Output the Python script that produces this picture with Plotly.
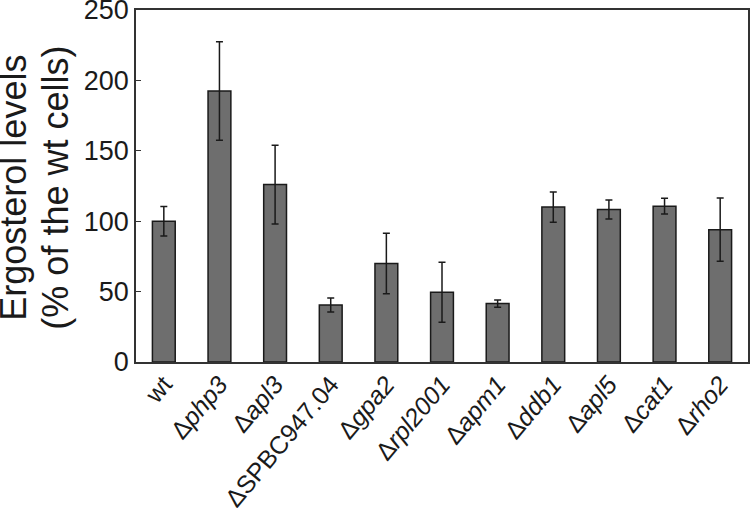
import plotly.graph_objects as go

categories = ["wt", "Δ<i>php3</i>", "Δ<i>apl3</i>", "ΔSPBC947.04", "Δ<i>gpa2</i>",
              "Δ<i>rpl2001</i>", "Δ<i>apm1</i>", "Δ<i>ddb1</i>", "Δ<i>apl5</i>",
              "Δ<i>cat1</i>", "Δ<i>rho2</i>"]
values = [100, 192.5, 126, 40.5, 70, 49.5, 41.5, 110, 108.3, 110.7, 94]
errors = [10.5, 35, 28, 5, 21.5, 21.3, 2.6, 10.7, 6.7, 5.6, 22.4]
y_ticks = [0, 50, 100, 150, 200, 250]
title_lines = ["Ergosterol levels", "(% of the wt cells)"]

FONT = "Liberation Sans, Arial, sans-serif"

fig = go.Figure(go.Bar(
    x=categories, y=values,
    marker=dict(color="#6e6e6e", line=dict(color="#1a1a1a", width=1.5)),
    error_y=dict(type="data", array=errors, visible=True, color="#1a1a1a",
                 thickness=1.5, width=3.5),
))

fig.update_layout(
    width=750, height=508,
    margin=dict(l=136, r=2, t=10, b=146),
    plot_bgcolor="white", paper_bgcolor="white",
    bargap=0.59, showlegend=False,
    font=dict(family=FONT, color="#1a1a1a"),
)
fig.update_xaxes(
    showline=True, mirror=True, linecolor="#333333", linewidth=1.5,
    ticks="", tickangle=-50, tickfont=dict(size=25), showgrid=False,
    automargin=False, ticklabeloverflow="allow", ticklabelstandoff=-4,
)
fig.update_yaxes(
    range=[0, 250], tickvals=y_ticks, showline=True, mirror=True,
    linecolor="#333333", linewidth=1.5, ticks="inside", ticklen=5,
    tickcolor="#333333", tickfont=dict(size=27), showgrid=False, zeroline=False,
    automargin=False, ticklabeloverflow="allow",
)

for xpos, txt in zip([-0.2, -0.1315], title_lines):
    fig.add_annotation(
        text=txt, xref="paper", yref="paper", x=xpos, y=0.494,
        xanchor="center", yanchor="middle", textangle=-90, showarrow=False,
        font=dict(size=36, family=FONT, color="#1a1a1a"),
    )

# remove the default 8px page margin so the figure fills the window exactly
fig.write_html("out.html", config={"displayModeBar": False},
               post_script="document.body.style.margin='0px';")
